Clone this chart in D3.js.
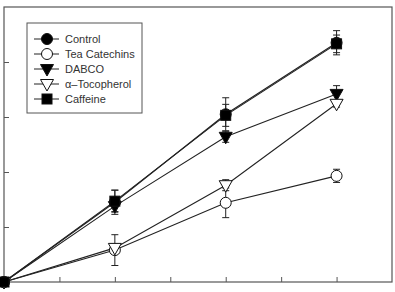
<!DOCTYPE html>
<html>
<head>
<meta charset="utf-8">
<script src="https://cdn.jsdelivr.net/npm/d3@7"></script>
<style>
  body { margin: 0; background: #fff; }
  svg { display: block; }
  text { font-family: "Liberation Sans", Arial, sans-serif; }
</style>
</head>
<body>
<div id="container"></div>
<script>
let w = 395;
let h = 292;

// data
let xValues = [0, 2, 4, 6];
let seriesNames = ["Control", "Tea Catechins", "DABCO", "\u03b1\u2013Tocopherol", "Caffeine"];
let controlVals = [0, 1.45, 3.05, 4.35];
let teaVals = [0, 0.58, 1.44, 1.93];
let dabcoVals = [0, 1.38, 2.64, 3.42];
let tocoVals = [0, 0.62, 1.76, 3.24];
let caffeineVals = [0, 1.47, 3.03, 4.33];
let controlErr = [0, 0.22, 0.3, 0.22];
let teaErr = [0, 0.28, 0.27, 0.12];
let dabcoErr = [0, 0.1, 0.1, 0.15];
let tocoErr = [0, 0.05, 0.1, 0.06];
let caffeineErr = [0, 0.2, 0.2, 0.16];
let xTicks = [0, 1, 2, 3, 4, 5, 6, 7];
let yTicks = [0, 1, 2, 3, 4, 5];

let symbols = ["circleFilled", "circleOpen", "triDownFilled", "triDownOpen", "squareFilled"];
let allVals = [controlVals, teaVals, dabcoVals, tocoVals, caffeineVals];
let allErr = [controlErr, teaErr, dabcoErr, tocoErr, caffeineErr];

let series = seriesNames.map(function(name, i) {
  return {
    name: name,
    sym: symbols[i],
    points: xValues.map(function(x, j) { return {x: x, y: allVals[i][j], e: allErr[i][j]}; })
  };
});

let plotLeft = 4, plotRight = 392, plotTop = 7, plotBottom = 282;

let x = d3.scaleLinear().domain([0, 7]).range([plotLeft, plotRight]);
let y = d3.scaleLinear().domain([0, 5]).range([plotBottom, plotTop]);

let viz = d3.select("#container")
  .append("svg")
    .attr("width", w)
    .attr("height", h);

// frame
viz.append("rect")
  .attr("x", plotLeft).attr("y", plotTop)
  .attr("width", plotRight - plotLeft).attr("height", plotBottom - plotTop)
  .attr("fill", "none").attr("stroke", "#555").attr("stroke-width", 1.2);

// inward ticks, no labels
let xAxis = d3.axisTop(x).tickValues(xTicks.slice(1, -1)).tickSize(5).tickFormat("");
let yAxis = d3.axisRight(y).tickValues(yTicks.slice(1, -1)).tickSize(5).tickFormat("");
let gx = viz.append("g").attr("transform", "translate(0," + plotBottom + ")").call(xAxis);
let gy = viz.append("g").attr("transform", "translate(" + plotLeft + ",0)").call(yAxis);
[gx, gy].forEach(function(g) {
  g.select(".domain").remove();
  g.selectAll("line").attr("stroke", "#555").attr("stroke-width", 1);
});

function drawSymbol(g, sym, cx, cy) {
  let r = 5.5;
  let filled = sym.indexOf("Filled") > -1;
  let fill = filled ? "#000" : "#fff";
  let el;
  if (sym.indexOf("circle") === 0) {
    el = g.append("circle").attr("cx", cx).attr("cy", cy).attr("r", r);
  } else if (sym.indexOf("triDown") === 0) {
    el = g.append("path")
      .attr("d", "M" + (cx - 6.5) + "," + (cy - 4.5) + "L" + (cx + 6.5) + "," + (cy - 4.5) + "L" + cx + "," + (cy + 7) + "Z");
  } else {
    el = g.append("rect").attr("x", cx - 5).attr("y", cy - 5).attr("width", 10).attr("height", 10);
  }
  el.attr("fill", fill).attr("stroke", "#111").attr("stroke-width", 1);
}

let line = d3.line().x(function(d) { return x(d.x); }).y(function(d) { return y(d.y); });

let lineGroup = viz.append("g");
lineGroup.selectAll("path").data(series).enter()
  .append("path")
    .attr("d", function(d) { return line(d.points); })
    .attr("fill", "none")
    .attr("stroke", "#222")
    .attr("stroke-width", 1.1);

// error bars
let errGroup = viz.append("g");
series.forEach(function(s) {
  s.points.forEach(function(p) {
    if (p.e <= 0) return;
    let px = x(p.x);
    let y1 = y(p.y + p.e), y2 = y(p.y - p.e);
    errGroup.append("line").attr("x1", px).attr("x2", px).attr("y1", y1).attr("y2", y2)
      .attr("stroke", "#222").attr("stroke-width", 1);
    [y1, y2].forEach(function(yy) {
      errGroup.append("line").attr("x1", px - 3.5).attr("x2", px + 3.5).attr("y1", yy).attr("y2", yy)
        .attr("stroke", "#222").attr("stroke-width", 1);
    });
  });
});

// markers
let markGroup = viz.append("g");
series.forEach(function(s) {
  s.points.forEach(function(p) {
    drawSymbol(markGroup, s.sym, x(p.x), y(p.y));
  });
});

// legend
let legend = viz.append("g");
legend.append("rect")
  .attr("x", 27).attr("y", 23).attr("width", 115).attr("height", 90)
  .attr("fill", "#fff").attr("stroke", "#555").attr("stroke-width", 1);

series.forEach(function(s, i) {
  let ly = 39 + i * 15;
  legend.append("line").attr("x1", 34).attr("x2", 59).attr("y1", ly).attr("y2", ly)
    .attr("stroke", "#222").attr("stroke-width", 1);
  drawSymbol(legend, s.sym, 47, ly);
  legend.append("text")
    .attr("x", 65).attr("y", ly + 4)
    .attr("font-size", 11)
    .attr("fill", "#333")
    .text(s.name);
});
</script>
</body>
</html>
